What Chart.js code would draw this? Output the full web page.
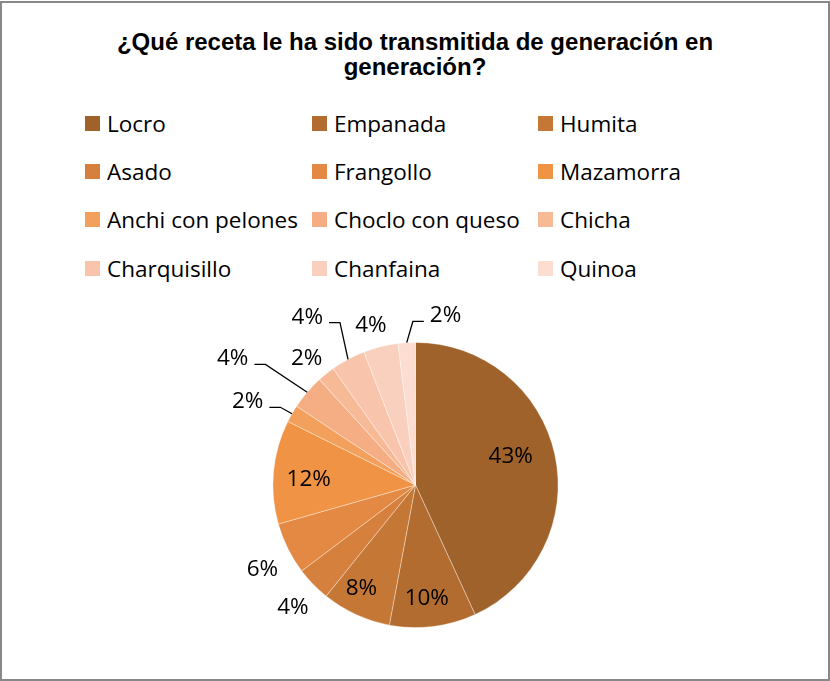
<!DOCTYPE html>
<html>
<head>
<meta charset="utf-8">
<script src="https://cdn.jsdelivr.net/npm/chart.js"></script>
<style>
  body { margin: 0; background: #fff; }
  #frame { position: absolute; left: 0; top: 1px; width: 830px; height: 680px; border: 2px solid #888; box-sizing: border-box; }
  #title { position: absolute; left: 0; top: 29px; width: 830px; text-align: center; font: bold 24px "Liberation Sans", Arial, sans-serif; line-height: 25px; color: #000; }
  #legend { position: absolute; left: 85px; top: 99px; display: grid; grid-template-columns: 227px 226px auto; grid-auto-rows: 48.3px; }
  .item { display: flex; align-items: center; font: 22.5px "Open Sans", sans-serif; color: #000; white-space: nowrap; }
  .box { width: 15px; height: 15px; margin-right: 7px; flex: none; }
  #chart { position: absolute; left: 0; top: 0; }
</style>
</head>
<body>
<div id="frame"></div>
<div id="title">¿Qué receta le ha sido transmitida de generación en<br>generación?</div>
<div id="legend"></div>
<canvas id="chart" width="830" height="681"></canvas>
<script>
const recetas = ["Locro", "Empanada", "Humita", "Asado", "Frangollo", "Mazamorra",
    "Anchi con pelones", "Choclo con queso", "Chicha", "Charquisillo", "Chanfaina", "Quinoa"];
const respuestas = [22, 5, 4, 2, 3, 6, 1, 2, 1, 2, 2, 1];
const colores = ["#A0622B", "#B36C2F", "#C57735", "#D5803D", "#E38943", "#F19344",
    "#F4A05D", "#F5AE83", "#F6BA97", "#F8C5AC", "#F9D0BE", "#FBDDD2"];

// where each % label sits: r = fraction of radius, da = degrees from slice middle
const labelPos = [
    { r: 0.70, da: -5 },
    { r: 0.79, da: 1.3 },
    { r: 0.81, da: 3.2 },
    { r: 1.21, da: -0.6 },
    { r: 1.22, da: -1.9 },
    { r: 0.75, da: -1.5 },
    { r: 1.093, da: -0.1, leader: "left" },
    { r: 1.35, da: -1.8, leader: "left" },
    { r: 1.18, da: -1.5 },
    { r: 1.256, da: 3.3, leader: "left" },
    { r: 1.17, da: -1.4 },
    { r: 1.147, da: 2.6, leader: "right" }
];

const legend = document.getElementById("legend");
recetas.forEach((r, i) => {
    const item = document.createElement("div");
    item.className = "item";
    item.innerHTML = `<span class="box" style="background:${colores[i]}"></span>${r}`;
    legend.appendChild(item);
});

const pctLabels = {
    id: "pctLabels",
    afterDatasetsDraw(chart) {
        const ctx = chart.ctx;
        const meta = chart.getDatasetMeta(0);
        const total = respuestas.reduce((a, b) => a + b, 0);
        ctx.save();
        ctx.font = "22.5px 'Open Sans'";
        ctx.fillStyle = "#000";
        ctx.strokeStyle = "#000";
        ctx.lineWidth = 1.3;
        meta.data.forEach((arc, i) => {
            const p = arc.getProps(["x", "y", "startAngle", "endAngle", "outerRadius"], true);
            const mid = (p.startAngle + p.endAngle) / 2;
            const pos = labelPos[i];
            const a = mid + pos.da * Math.PI / 180;
            const lx = p.x + Math.cos(a) * p.outerRadius * pos.r;
            const ly = p.y + Math.sin(a) * p.outerRadius * pos.r;
            const txt = Math.round(respuestas[i] / total * 100) + "%";
            ctx.textBaseline = "alphabetic";
            if (pos.leader) {
                const sx = p.x + Math.cos(mid) * p.outerRadius;
                const sy = p.y + Math.sin(mid) * p.outerRadius;
                const dir = pos.leader === "left" ? -1 : 1;
                const ex = lx + dir * 11;
                ctx.beginPath();
                ctx.moveTo(sx, sy);
                ctx.lineTo(lx, ly);
                ctx.lineTo(ex, ly);
                ctx.stroke();
                ctx.textAlign = dir < 0 ? "right" : "left";
                ctx.fillText(txt, ex + dir * 6, ly + 1);
            } else {
                ctx.textAlign = "center";
                ctx.fillText(txt, lx, ly + 8);
            }
        });
        ctx.restore();
    }
};

new Chart(document.getElementById("chart"), {
    type: "pie",
    data: {
        labels: recetas,
        datasets: [{
            data: respuestas,
            backgroundColor: colores,
            borderColor: "rgba(255,255,255,0.45)",
            borderWidth: 0.8
        }]
    },
    options: {
        responsive: false,
        animation: false,
        layout: { padding: { top: 342, bottom: 53, left: 272.5, right: 271.5 } },
        plugins: {
            legend: { display: false },
            tooltip: { enabled: false },
            title: { display: false }
        }
    },
    plugins: [pctLabels]
});
</script>
</body>
</html>
